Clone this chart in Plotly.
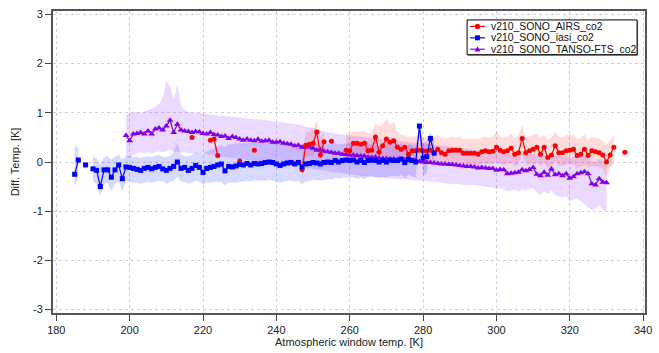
import plotly.graph_objects as go

# ---------------- data ----------------
x_ticks = [180, 200, 220, 240, 260, 280, 300, 320, 340]
y_ticks = [-3, -2, -1, 0, 1, 2, 3]
y_tick_text = ["-3", "-2", "-1", "0", "1", "2", "3"]

series_names = ["v210_SONO_AIRS_co2", "v210_SONO_iasi_co2", "v210_SONO_TANSO-FTS_co2"]

# iasi (blue), T = 185 .. 283
iasi_t = list(range(185, 284))
iasi_y = [
    -0.25, 0.04, None, -0.06, None, -0.14, -0.17, -0.50, -0.16, -0.16,
    -0.31, -0.16, -0.06, -0.34, -0.10, -0.11, -0.13, -0.15, -0.17, -0.13,
    -0.11, -0.14, -0.11, -0.09, -0.14, -0.17, -0.13, -0.09, 0.00, -0.13,
    -0.11, -0.17, -0.13, -0.07, -0.11, -0.21, -0.13, -0.11, -0.09, -0.06,
    -0.04, -0.18, -0.09, -0.10, -0.08, -0.05, -0.06, -0.03, -0.06, -0.03,
    -0.04, -0.03, -0.01, 0.00, -0.01, -0.04, -0.07, -0.04, -0.02, -0.01,
    -0.04, -0.01, -0.10, -0.04, -0.03, -0.01, -0.02, -0.04, -0.01, 0.00,
    -0.01, 0.03, 0.00, 0.03, 0.04, 0.03, 0.04, 0.00, 0.03, -0.01,
    0.03, 0.04, 0.03, 0.00, 0.03, 0.00, 0.04, 0.03, 0.03, 0.06,
    -0.01, 0.06, 0.03, 0.00, 0.73, 0.08, 0.11, 0.48, 0.18,
]
iasi_hi = [
    0.33, 0.30, None, None, None, 0.10, 0.08, -0.05, 0.10, 0.12,
    0.05, 0.10, 0.15, 0.05, 0.12, 0.12, 0.10, 0.10, 0.08, 0.10,
    0.12, 0.10, 0.12, 0.14, 0.10, 0.10, 0.12, 0.20, 0.38, 0.15,
    0.12, 0.12, 0.14, 0.20, 0.18, 0.15, 0.22, 0.25, 0.28, 0.32,
    0.34, 0.30, 0.36, 0.36, 0.38, 0.38, 0.38, 0.40, 0.38, 0.40,
    0.40, 0.40, 0.40, 0.42, 0.40, 0.38, 0.36, 0.38, 0.38, 0.38,
    0.36, 0.38, 0.30, 0.35, 0.36, 0.37, 0.36, 0.35, 0.36, 0.37,
    0.36, 0.38, 0.36, 0.37, 0.38, 0.37, 0.38, 0.35, 0.36, 0.33,
    0.35, 0.36, 0.35, 0.33, 0.35, 0.32, 0.36, 0.35, 0.35, 0.38,
    0.30, 0.36, 0.34, 0.32, 0.80, 0.40, 0.42, 0.62, 0.45,
]
iasi_lo = [
    -0.50, -0.30, None, None, None, -0.40, -0.45, -0.68, -0.45, -0.42,
    -0.60, -0.45, -0.40, -0.60, -0.38, -0.40, -0.42, -0.42, -0.44, -0.42,
    -0.40, -0.42, -0.40, -0.38, -0.40, -0.44, -0.40, -0.38, -0.30, -0.40,
    -0.40, -0.44, -0.42, -0.38, -0.40, -0.46, -0.42, -0.42, -0.40, -0.40,
    -0.40, -0.48, -0.42, -0.42, -0.42, -0.40, -0.40, -0.38, -0.40, -0.38,
    -0.38, -0.38, -0.38, -0.36, -0.38, -0.40, -0.42, -0.40, -0.38, -0.38,
    -0.40, -0.38, -0.45, -0.40, -0.38, -0.36, -0.37, -0.38, -0.36, -0.35,
    -0.36, -0.32, -0.34, -0.32, -0.31, -0.32, -0.31, -0.34, -0.32, -0.35,
    -0.30, -0.29, -0.30, -0.32, -0.30, -0.32, -0.28, -0.29, -0.29, -0.26,
    -0.32, -0.26, -0.29, -0.32, 0.55, -0.28, -0.22, 0.30, -0.10,
]

# TANSO-FTS (purple), T = 199 .. 330
tanso_t = list(range(199, 331))
tanso_y = [
    0.54, 0.43, 0.57, 0.58, 0.60, 0.57, 0.63, 0.57, 0.67, 0.69,
    0.65, 0.73, 0.85, 0.60, 0.77, 0.65, 0.63, 0.62, 0.60, 0.62,
    0.61, 0.58, 0.57, 0.60, 0.56, 0.55, 0.52, 0.53, 0.48, 0.52,
    0.50, 0.47, 0.44, 0.47, 0.44, 0.43, 0.46, 0.42, 0.43, 0.44,
    0.40, 0.40, 0.41, 0.38, 0.37, 0.36, 0.33, 0.34, 0.30, 0.30,
    0.31, 0.28, 0.24, 0.25, 0.22, 0.21, 0.20, 0.18, 0.18, 0.16,
    0.15, 0.14, 0.14, 0.13, 0.12, 0.12, 0.10, 0.09, 0.10, 0.08,
    0.07, 0.07, 0.06, 0.06, 0.05, 0.05, 0.04, 0.03, 0.03, 0.02,
    0.01, 0.00, -0.01, -0.01, -0.02, -0.03, -0.04, -0.04, -0.05, -0.05,
    -0.06, -0.07, -0.08, -0.09, -0.09, -0.10, -0.12, -0.11, -0.12, -0.13,
    -0.13, -0.17, -0.15, -0.16, -0.24, -0.23, -0.22, -0.21, -0.16, -0.18,
    -0.15, -0.11, -0.25, -0.28, -0.21, -0.27, -0.14, -0.26, -0.24, -0.28,
    -0.24, -0.33, -0.30, -0.24, -0.22, -0.20, -0.24, -0.44, -0.47, -0.34,
    -0.41, -0.42,
]
tanso_hi = [
    0.95, 1.00, 1.00, 1.02, 1.00, 1.03, 1.05, 1.08, 1.12, 1.18,
    1.30, 1.65, 1.55, 1.27, 1.57, 1.15, 1.05, 1.02, 1.00, 1.00,
    1.00, 0.98, 0.97, 0.97, 0.96, 0.95, 0.93, 0.93, 0.92, 0.92,
    0.91, 0.90, 0.89, 0.89, 0.88, 0.87, 0.87, 0.86, 0.85, 0.85,
    0.84, 0.83, 0.82, 0.81, 0.80, 0.79, 0.78, 0.76, 0.74, 0.72,
    0.70, 0.68, 0.66, 0.64, 0.62, 0.61, 0.60, 0.58, 0.57, 0.56,
    0.55, 0.54, 0.53, 0.52, 0.51, 0.50, 0.49, 0.48, 0.47, 0.46,
    0.45, 0.44, 0.44, 0.43, 0.42, 0.42, 0.41, 0.40, 0.40, 0.39,
    0.38, 0.38, 0.37, 0.36, 0.35, 0.34, 0.33, 0.33, 0.32, 0.31,
    0.30, 0.29, 0.28, 0.27, 0.26, 0.25, 0.24, 0.24, 0.23, 0.22,
    0.22, 0.21, 0.20, 0.20, 0.18, 0.18, 0.17, 0.17, 0.18, 0.16,
    0.16, 0.18, 0.14, 0.12, 0.14, 0.12, 0.16, 0.12, 0.12, 0.10,
    0.12, 0.08, 0.10, 0.12, 0.12, 0.12, 0.10, 0.02, 0.00, 0.06,
    0.02, 0.02,
]
tanso_lo = [
    0.10, 0.08, 0.15, 0.18, 0.20, 0.18, 0.20, 0.18, 0.20, 0.22,
    0.20, 0.22, 0.25, 0.20, 0.22, 0.20, 0.20, 0.18, 0.18, 0.18,
    0.17, 0.16, 0.15, 0.15, 0.14, 0.12, 0.10, 0.10, 0.08, 0.08,
    0.06, 0.05, 0.04, 0.04, 0.03, 0.02, 0.02, 0.01, 0.00, 0.00,
    -0.01, -0.02, -0.03, -0.05, -0.06, -0.07, -0.08, -0.09, -0.10, -0.11,
    -0.12, -0.14, -0.16, -0.17, -0.19, -0.20, -0.21, -0.22, -0.23, -0.24,
    -0.25, -0.26, -0.27, -0.28, -0.28, -0.29, -0.30, -0.30, -0.31, -0.32,
    -0.32, -0.33, -0.33, -0.34, -0.34, -0.35, -0.35, -0.36, -0.36, -0.37,
    -0.37, -0.38, -0.38, -0.39, -0.40, -0.41, -0.42, -0.43, -0.44, -0.44,
    -0.45, -0.46, -0.46, -0.47, -0.47, -0.48, -0.49, -0.50, -0.50, -0.51,
    -0.52, -0.55, -0.52, -0.55, -0.60, -0.58, -0.56, -0.60, -0.55, -0.58,
    -0.55, -0.52, -0.62, -0.66, -0.60, -0.65, -0.58, -0.68, -0.70, -0.72,
    -0.70, -0.80, -0.76, -0.74, -0.80, -0.85, -0.92, -0.98, -0.95, -0.88,
    -0.97, -1.00,
]

# AIRS (red), T = 217 .. 335
airs_t = list(range(217, 336))
airs_y = [
    0.50, None, None, None, None, 0.44, 0.47, 0.13, None, None,
    None, None, None, 0.02, None, None, None, 0.24, None, None,
    None, None, None, None, None, None, None, None, None, None,
    -0.16, 0.34, 0.36, 0.38, 0.61, 0.14, 0.41, None, 0.42, None,
    None, None, 0.24, 0.23, 0.38, 0.38, 0.36, 0.38, 0.23, 0.24,
    0.51, 0.20, 0.33, 0.47, 0.40, 0.43, 0.30, 0.26, 0.30, 0.16,
    0.23, 0.23, 0.24, 0.23, 0.22, 0.24, 0.19, 0.26, 0.19, 0.16,
    0.23, 0.24, 0.24, 0.24, 0.18, 0.18, 0.18, 0.18, 0.16, 0.21,
    0.23, 0.21, 0.22, 0.30, 0.24, 0.21, 0.23, 0.28, 0.16, 0.19,
    0.48, 0.19, 0.23, 0.26, 0.30, 0.16, 0.30, 0.09, 0.14, 0.33,
    0.19, 0.19, 0.23, 0.24, 0.26, 0.13, 0.16, 0.26, 0.13, 0.23,
    0.21, 0.19, 0.14, 0.00, 0.14, 0.30, None, None, 0.20,
]
airs_hi = [
    None, None, None, None, None, 0.48, 0.52, 0.20, None, None,
    None, None, None, None, None, None, None, None, None, None,
    None, None, None, None, None, None, None, None, None, None,
    0.10, 0.60, 0.62, 0.68, 0.85, 0.50, 0.60, None, None, None,
    None, None, 0.58, 0.58, 0.62, 0.62, 0.62, 0.62, 0.58, 0.60,
    0.80, 0.72, 0.78, 0.88, 0.75, 0.83, 0.60, 0.55, 0.55, 0.50,
    0.52, 0.52, 0.52, 0.50, 0.50, 0.52, 0.50, 0.55, 0.50, 0.48,
    0.50, 0.52, 0.50, 0.52, 0.47, 0.48, 0.46, 0.48, 0.46, 0.50,
    0.52, 0.50, 0.52, 0.63, 0.52, 0.50, 0.52, 0.58, 0.48, 0.55,
    0.75, 0.50, 0.52, 0.55, 0.58, 0.50, 0.56, 0.45, 0.50, 0.62,
    0.52, 0.50, 0.55, 0.56, 0.55, 0.46, 0.50, 0.56, 0.45, 0.52,
    0.50, 0.48, 0.42, 0.35, 0.45, 0.55, None, None, None,
]
airs_lo = [
    None, None, None, None, None, 0.40, 0.42, 0.06, None, None,
    None, None, None, None, None, None, None, None, None, None,
    None, None, None, None, None, None, None, None, None, None,
    -0.35, 0.10, 0.12, 0.12, 0.35, -0.05, 0.20, None, None, None,
    None, None, 0.00, 0.00, 0.05, 0.05, 0.05, 0.05, 0.00, 0.00,
    0.10, -0.02, 0.05, 0.10, 0.08, 0.10, 0.02, 0.00, 0.02, -0.05,
    -0.02, -0.02, -0.02, -0.03, -0.03, -0.02, -0.05, -0.02, -0.04, -0.06,
    -0.03, -0.02, -0.02, -0.02, -0.06, -0.05, -0.06, -0.05, -0.06, -0.04,
    -0.03, -0.04, -0.04, 0.00, -0.04, -0.06, -0.05, -0.02, -0.08, -0.06,
    0.15, -0.06, -0.05, -0.04, -0.02, -0.08, -0.03, -0.12, -0.10, 0.02,
    -0.07, -0.08, -0.05, -0.05, -0.04, -0.12, -0.10, -0.05, -0.12, -0.08,
    -0.08, -0.10, -0.14, -0.30, -0.15, 0.00, None, None, None,
]

# ---------------- styles ----------------
RED = "rgb(255,0,0)"
BLUE = "rgb(0,0,255)"
PURPLE = "rgb(128,0,235)"
FONT = "Liberation Sans, Arial, Helvetica, sans-serif"

W, H = 659, 353
ML, MR, MT, MB = 53, 7, 11, 38
PW, PH = W - ML - MR, H - MT - MB


def band_polygons(ts, hi, lo):
    px, py = [], []
    seg = []

    def flush(seg):
        if len(seg) > 1:
            px.extend([s[0] for s in seg] + [s[0] for s in reversed(seg)] + [None])
            py.extend([s[1] for s in seg] + [s[2] for s in reversed(seg)] + [None])

    for t, h, l in zip(ts, hi, lo):
        if h is None or l is None:
            flush(seg)
            seg = []
        else:
            seg.append((t, h, l))
    flush(seg)
    return px, py


fig = go.Figure()

bands = [
    (tanso_t, tanso_hi, tanso_lo, "rgba(128,0,255,0.15)"),
    (iasi_t, iasi_hi, iasi_lo, "rgba(0,0,255,0.15)"),
    (airs_t, airs_hi, airs_lo, "rgba(255,0,0,0.14)"),
]
for ts, hi, lo, col in bands:
    bx, by = band_polygons(ts, hi, lo)
    fig.add_trace(go.Scatter(x=bx, y=by, mode="lines", fill="toself", fillcolor=col,
                             line=dict(width=0), hoverinfo="skip", showlegend=False))

fig.add_trace(go.Scatter(x=tanso_t, y=tanso_y, mode="lines+markers", name=series_names[2],
                         line=dict(color=PURPLE, width=1.2),
                         marker=dict(symbol="triangle-up", size=6, color=PURPLE),
                         showlegend=False))
fig.add_trace(go.Scatter(x=airs_t, y=airs_y, mode="lines+markers", name=series_names[0],
                         line=dict(color=RED, width=1.2),
                         marker=dict(symbol="circle", size=5, color=RED),
                         showlegend=False))
fig.add_trace(go.Scatter(x=iasi_t, y=iasi_y, mode="lines+markers", name=series_names[1],
                         line=dict(color=BLUE, width=1.2),
                         marker=dict(symbol="square", size=5, color=BLUE),
                         showlegend=False))

# ---------------- hand-drawn compact legend (paper coords from pixels) ----------------
def px2x(px):
    return (px - ML) / PW


def py2y(py):
    return (H - MB - py) / PH


shapes = []
annotations = []
# shadow + box
shapes.append(dict(type="rect", xref="paper", yref="paper", layer="above",
                   x0=px2x(473), x1=px2x(645), y0=py2y(56), y1=py2y(21),
                   fillcolor="#777777", line=dict(width=0)))
shapes.append(dict(type="rect", xref="paper", yref="paper", layer="above",
                   x0=px2x(472), x1=px2x(644), y0=py2y(55), y1=py2y(20),
                   fillcolor="white", line=dict(color="black", width=1)))
entry_y = [26.5, 38, 49.5]
entry_col = [RED, BLUE, PURPLE]
entry_sym = ["circle", "square", "triangle"]
for name, yy, col, sym in zip(series_names, entry_y, entry_col, entry_sym):
    shapes.append(dict(type="line", xref="paper", yref="paper", layer="above",
                       x0=px2x(475), x1=px2x(490), y0=py2y(yy), y1=py2y(yy),
                       line=dict(color=col, width=1.2)))
    cx = 482.5
    if sym == "circle":
        shapes.append(dict(type="circle", xref="paper", yref="paper", layer="above",
                           x0=px2x(cx - 2.6), x1=px2x(cx + 2.6), y0=py2y(yy + 2.6), y1=py2y(yy - 2.6),
                           fillcolor=col, line=dict(width=0)))
    elif sym == "square":
        shapes.append(dict(type="rect", xref="paper", yref="paper", layer="above",
                           x0=px2x(cx - 2.5), x1=px2x(cx + 2.5), y0=py2y(yy + 2.5), y1=py2y(yy - 2.5),
                           fillcolor=col, line=dict(width=0)))
    else:
        path = "M {:.5f},{:.5f} L {:.5f},{:.5f} L {:.5f},{:.5f} Z".format(
            px2x(cx - 3), py2y(yy + 2.2), px2x(cx + 3), py2y(yy + 2.2), px2x(cx), py2y(yy - 3))
        shapes.append(dict(type="path", xref="paper", yref="paper", layer="above",
                           path=path, fillcolor=col, line=dict(width=0)))
    annotations.append(dict(xref="paper", yref="paper", x=px2x(494), y=py2y(yy),
                            xanchor="left", yanchor="middle", showarrow=False,
                            text=name, font=dict(family=FONT, size=10.4, color="#111111")))

axis_common = dict(
    showline=True, linecolor="#555555", linewidth=2, mirror=True,
    ticks="outside", ticklen=6, tickwidth=1, tickcolor="#444444",
    showgrid=True, gridcolor="rgb(205,203,240)", griddash="dot", gridwidth=1,
    zeroline=False, tickfont=dict(family=FONT, size=11, color="#222222"),
)

fig.update_layout(
    width=W, height=H,
    margin=dict(l=ML, r=MR, t=MT, b=MB),
    plot_bgcolor="white", paper_bgcolor="white",
    font=dict(family=FONT, size=11, color="#222222"),
    xaxis=dict(range=[179.1, 340.5], tickmode="array", tickvals=x_ticks,
               title=dict(text="Atmospheric window temp. [K]", standoff=2,
                          font=dict(family=FONT, size=11, color="#222222")),
               **axis_common),
    yaxis=dict(range=[-3.07, 3.07], tickmode="array", tickvals=y_ticks, ticktext=y_tick_text,
               title=dict(text="Diff. Temp. [K]", standoff=11,
                          font=dict(family=FONT, size=11, color="#222222")),
               **axis_common),
    showlegend=False,
    shapes=shapes,
    annotations=annotations,
)

fig.write_html("out.html", config={"displayModeBar": False},
               post_script="document.body.style.margin='0px';document.body.style.padding='0px';")
